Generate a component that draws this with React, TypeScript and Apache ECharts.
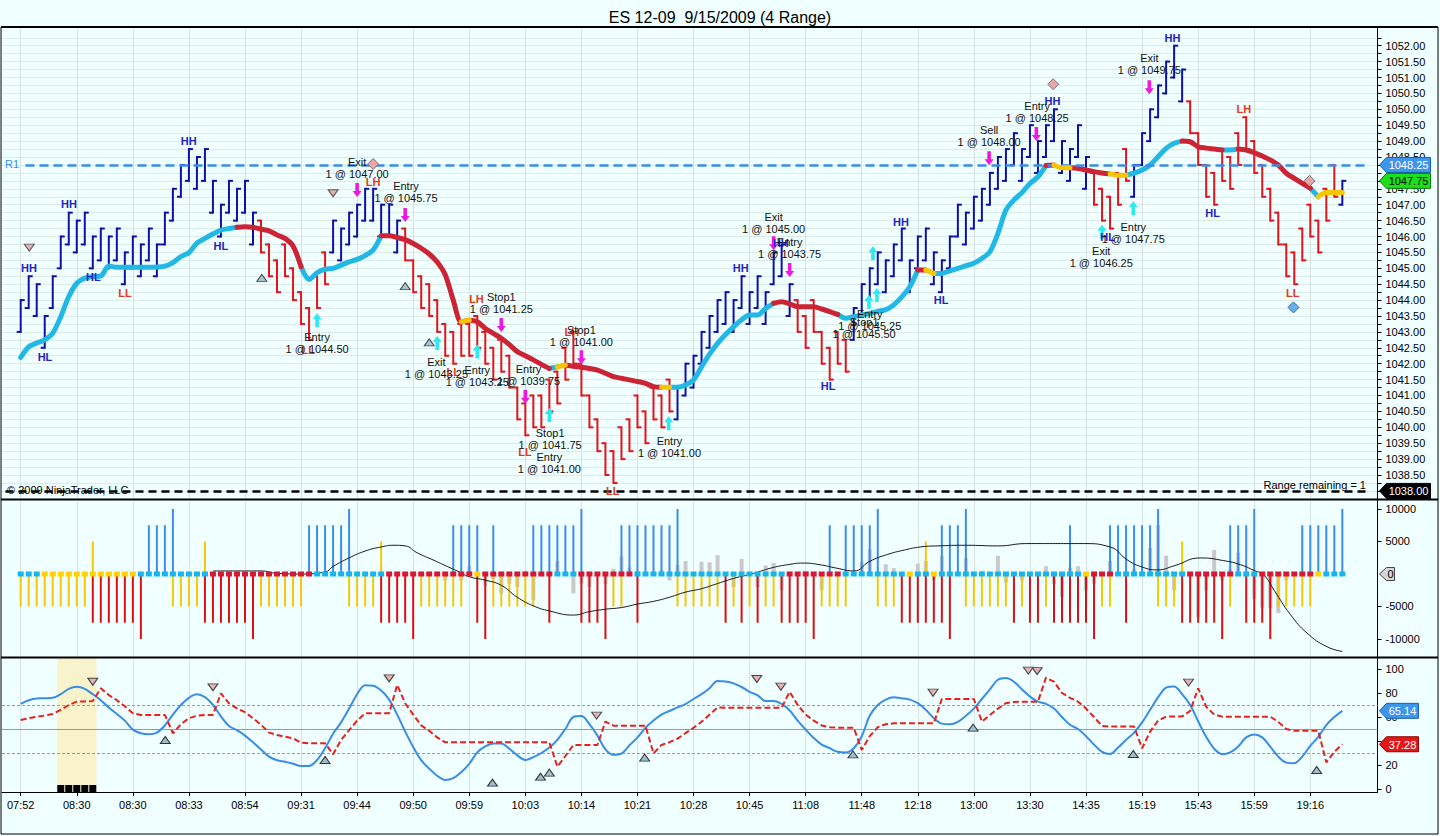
import React, { useEffect, useRef } from 'react';
import * as echarts from 'echarts';

const FONT = '"Liberation Sans", Arial, Helvetica, sans-serif';
const TITLE = 'ES 12-09  9/15/2009 (4 Range)';

// ---------- x axis (bar numbers, one label every 7 bars) ----------
const TIME_LABELS = ['07:52', '08:30', '08:30', '08:33', '08:54', '09:31', '09:44', '09:50', '09:59', '10:03', '10:14', '10:21', '10:28', '10:45', '11:08', '11:48', '12:18', '13:00', '13:30', '14:35', '15:19', '15:43', '15:59', '19:16'];
const LABEL_STEP = 7;

// ---------- price pane ----------
const BAR_HIGHS = [
  1044, 1044.75, 1044.5, 1043.5, 1044.75, 1046, 1046.75, 1046.5, 1046.75, 1046,
  1046.25, 1046, 1046.25, 1045.5, 1046, 1045.75, 1046.25, 1045.75, 1046.75, 1047.5,
  1048.25, 1048.75, 1048.5, 1048.75, 1047.75, 1047, 1047.75, 1047.5, 1047.75, 1046.75,
  1046.5, 1045.75, 1045.25, 1045.75, 1045, 1044.25, 1043.75, 1044.75, 1045.5, 1046.5,
  1046.25, 1046.75, 1047, 1047.5, 1047.5, 1047, 1047, 1046.5, 1046.25, 1045.25,
  1044.75, 1044.5, 1044, 1043.25, 1043, 1043.25, 1043.25, 1043.5, 1043, 1042.5,
  1042.75, 1042.25, 1041.25, 1040.75, 1041, 1041, 1041.5, 1041.75, 1042.5, 1043,
  1042, 1041, 1040.25, 1039.5, 1039.25, 1040, 1040.25, 1041, 1040.5, 1041.25,
  1041, 1041.5, 1041.25, 1042, 1042.25, 1043, 1043.5, 1044, 1044.25, 1044,
  1044.75, 1044.25, 1044.75, 1044.25, 1045.5, 1045.75, 1044.5, 1044, 1043.5, 1044,
  1043, 1042.5, 1043, 1042.75, 1043.75, 1044.5, 1045, 1045.5, 1045.25, 1045.75,
  1046.25, 1045.25, 1046, 1046.25, 1045.5, 1045.25, 1046, 1047, 1046.75, 1047.25,
  1047.5, 1048, 1048.5, 1048.75, 1049.25, 1048.75, 1049.5, 1049, 1049.5, 1050,
  1049, 1048.75, 1049.5, 1048.5, 1048, 1047.5, 1047.25, 1048, 1048.75, 1048.25,
  1049.25, 1050, 1050.75, 1051.5, 1052, 1051.25, 1050.25, 1049.25, 1048.25, 1048,
  1048.75, 1048.5, 1049.25, 1049.75, 1049, 1048.25, 1047.5, 1046.75, 1045.75, 1045.5,
  1046.25, 1047, 1046.5, 1047.5, 1048.25, 1047.75,
];
const BAR_LOWS = [
  1043, 1043.75, 1043.5, 1042.5, 1043.75, 1045, 1045.75, 1045.5, 1045.75, 1045,
  1045.25, 1045, 1045.25, 1044.5, 1045, 1044.75, 1045.25, 1044.75, 1045.75, 1046.5,
  1047.25, 1047.75, 1047.5, 1047.75, 1046.75, 1046, 1046.75, 1046.5, 1046.75, 1045.75,
  1045.5, 1044.75, 1044.25, 1044.75, 1044, 1043.25, 1042.75, 1043.75, 1044.5, 1045.5,
  1045.25, 1045.75, 1046, 1046.5, 1046.5, 1046, 1046, 1045.5, 1045.25, 1044.25,
  1043.75, 1043.5, 1043, 1042.25, 1042, 1042.25, 1042.25, 1042.5, 1042, 1041.5,
  1041.75, 1041.25, 1040.25, 1039.75, 1040, 1040, 1040.5, 1040.75, 1041.5, 1042,
  1041, 1040, 1039.25, 1038.5, 1038.25, 1039, 1039.25, 1040, 1039.5, 1040.25,
  1040, 1040.5, 1040.25, 1041, 1041.25, 1042, 1042.5, 1043, 1043.25, 1043,
  1043.75, 1043.25, 1043.75, 1043.25, 1044.5, 1044.75, 1043.5, 1043, 1042.5, 1043,
  1042, 1041.5, 1042, 1041.75, 1042.75, 1043.5, 1044, 1044.5, 1044.25, 1044.75,
  1045.25, 1044.25, 1045, 1045.25, 1044.5, 1044.25, 1045, 1046, 1045.75, 1046.25,
  1046.5, 1047, 1047.5, 1047.75, 1048.25, 1047.75, 1048.5, 1048, 1048.5, 1049,
  1048, 1047.75, 1048.5, 1047.5, 1047, 1046.5, 1046.25, 1047, 1047.75, 1047.25,
  1048.25, 1049, 1049.75, 1050.5, 1051, 1050.25, 1049.25, 1048.25, 1047.25, 1047,
  1047.75, 1047.5, 1048.25, 1048.75, 1048, 1047.25, 1046.5, 1045.75, 1044.75, 1044.5,
  1045.25, 1046, 1045.5, 1046.5, 1047.25, 1047,
];
// B = blue (up) bar, R = red (down) bar; [colour, number of bars]
const BAR_COLOR_RUNS: [string, number][] = [['B', 30], ['R', 9], ['B', 9], ['R', 34], ['B', 15], ['R', 7], ['B', 30], ['R', 5], ['B', 7], ['R', 19], ['B', 1]];

const MA_VALUES = [
  1042.2, 1042.53, 1042.65, 1042.75, 1042.96, 1043.48, 1044.11, 1044.53, 1044.69, 1044.74,
  1044.76, 1045.07, 1045.03, 1045.03, 1045.03, 1045.03, 1045.03, 1045.04, 1045.07, 1045.18,
  1045.37, 1045.49, 1045.79, 1045.94, 1046.08, 1046.2, 1046.25, 1046.29, 1046.31, 1046.29,
  1046.23, 1046.18, 1046.05, 1045.94, 1045.7, 1045.05, 1044.65, 1044.86, 1044.97, 1045.0,
  1045.1, 1045.2, 1045.28, 1045.4, 1045.58, 1046.02, 1046.02, 1045.97, 1045.9, 1045.78,
  1045.63, 1045.45, 1045.2, 1044.8, 1044.0, 1043.32, 1043.37, 1043.32, 1043.11, 1042.95,
  1042.8, 1042.6, 1042.38, 1042.25, 1042.12, 1041.98, 1041.85, 1041.9, 1041.96, 1041.92,
  1041.89, 1041.85, 1041.8, 1041.7, 1041.59, 1041.54, 1041.49, 1041.44, 1041.38, 1041.28,
  1041.26, 1041.26, 1041.26, 1041.33, 1041.49, 1041.9, 1042.3, 1042.64, 1042.92, 1043.16,
  1043.38, 1043.53, 1043.53, 1043.74, 1043.9, 1043.95, 1043.88, 1043.79, 1043.79, 1043.79,
  1043.72, 1043.64, 1043.55, 1043.43, 1043.48, 1043.53, 1043.58, 1043.64, 1043.7, 1043.85,
  1044.1, 1044.42, 1044.95, 1044.95, 1044.84, 1044.84, 1044.92, 1045.0, 1045.08, 1045.16,
  1045.31, 1045.52, 1046.1, 1046.83, 1047.15, 1047.38, 1047.67, 1047.88, 1048.23, 1048.25,
  1048.16, 1048.16, 1048.14, 1048.09, 1048.04, 1048.0, 1047.97, 1047.93, 1047.93, 1047.99,
  1048.09, 1048.25, 1048.51, 1048.77, 1048.93, 1049.0, 1048.98, 1048.82, 1048.78, 1048.75,
  1048.72, 1048.72, 1048.75, 1048.72, 1048.64, 1048.53, 1048.41, 1048.25, 1047.99, 1047.83,
  1047.67, 1047.52, 1047.25, 1047.38, 1047.38, 1047.38,
];
// u = rising (cyan), d = falling (red), f = flat (yellow)
const MA_STATE_RUNS: [string, number][] = [['u', 28], ['d', 8], ['u', 10], ['d', 10], ['f', 1], ['d', 10], ['u', 1], ['f', 1], ['d', 12], ['f', 1], ['u', 13], ['d', 8], ['u', 10], ['d', 1], ['f', 1], ['u', 14], ['d', 1], ['f', 2], ['d', 5], ['f', 2], ['u', 7], ['d', 5], ['u', 2], ['d', 9], ['u', 1], ['f', 3]];

const PRICE_LABELS = [1038, 1038.5, 1039, 1039.5, 1040, 1040.5, 1041, 1041.5, 1042, 1042.5, 1043, 1043.5, 1044, 1044.5, 1045, 1045.5, 1046, 1046.5, 1047, 1047.5, 1048, 1048.5, 1049, 1049.5, 1050, 1050.5, 1051, 1051.5, 1052];
const PRICE_MIN = 1037.745;
const PRICE_MAX = 1052.557;
const R1_LEVEL = 1048.25;
const FLOOR_LEVEL = 1038.0;
const LAST_PRICE = 1047.75;

const SWING_LABELS: [string, number, number][] = [
  ['HH', 2.04, 1045.01], ['HL', 4.03, 1042.22], ['HH', 7.03, 1047.01], ['HL', 10.06, 1044.72], ['LL', 14.02, 1044.23],
  ['HH', 21.97, 1048.99], ['HL', 26.0, 1045.71], ['LL', 36.9, 1042.43], ['LH', 45.0, 1047.72], ['LL', 55.0, 1041.75],
  ['LH', 57.9, 1044.03], ['LL', 63.96, 1039.23], ['LH', 69.8, 1043.0], ['LL', 74.9, 1038.01], ['HH', 90.9, 1045.0],
  ['HH', 95.9, 1045.8], ['HL', 101.8, 1041.3], ['HH', 110.9, 1046.47], ['HL', 115.9, 1044.0], ['HH', 129.8, 1050.27],
  ['HL', 136.7, 1045.97], ['HH', 144.8, 1052.23], ['HL', 149.8, 1046.73], ['LH', 153.7, 1050.0], ['LL', 159.8, 1044.23],
];
const TRADE_LABELS: [string, number, number][] = [
  ['Exit\n1 @ 1047.00', 43.0, 1048.15],
  ['Entry\n1 @ 1045.75', 49.1, 1047.4],
  ['Entry\n1 @ 1044.50', 38.0, 1042.64],
  ['Stop1\n1 @ 1041.25', 61.0, 1043.91],
  ['Exit\n1 @ 1043.25', 52.9, 1041.86],
  ['Entry\n1 @ 1043.25', 58.0, 1041.61],
  ['Entry\n1 @ 1039.75', 64.4, 1041.66],
  ['Stop1\n1 @ 1041.00', 71.0, 1042.88],
  ['Stop1\n1 @ 1041.75', 67.1, 1039.63],
  ['Entry\n1 @ 1041.00', 67.0, 1038.88],
  ['Entry\n1 @ 1041.00', 82.0, 1039.37],
  ['Exit\n1 @ 1045.00', 95.0, 1046.43],
  ['Entry\n1 @ 1043.75', 97.0, 1045.65],
  ['Entry\n1 @ 1045.25', 107.0, 1043.37],
  ['Stop1\n1 @ 1045.50', 106.3, 1043.12],
  ['Sell\n1 @ 1048.00', 121.9, 1049.16],
  ['Entry\n1 @ 1048.25', 127.9, 1049.92],
  ['Exit\n1 @ 1049.75', 141.9, 1051.43],
  ['Entry\n1 @ 1047.75', 139.9, 1046.11],
  ['Exit\n1 @ 1046.25', 135.9, 1045.36],
];
const SELL_ARROWS = [[43, 1047.46], [49, 1046.68], [61, 1043.22], [64, 1040.96], [71, 1042.2], [95, 1045.79], [97, 1044.95], [121.9, 1048.46], [127.8, 1049.22], [141.9, 1050.69]];
const BUY_ARROWS = [[38, 1043.37], [53, 1042.65], [58, 1042.38], [67, 1040.39], [81.9, 1040.13], [106.9, 1043.95], [107.9, 1044.16], [107.4, 1045.47], [139.9, 1046.89], [136, 1046.15]];
const PRICE_TRI_DOWN = [[2.07, 1045.65], [40, 1047.36]];
const PRICE_TRI_UP = [[31.1, 1044.7], [49, 1044.44], [52, 1042.67]];
const PINK_DIAMONDS = [[45, 1048.28], [129.9, 1050.79], [161.9, 1047.75]];
const BLUE_DIAMONDS = [[159.9, 1043.77]];

// ---------- delta pane ----------
const DELTA_UP = [
  0, 0, 0, 0, 0, 0, 0, 0, 0, 5000,
  0, 0, 0, 0, 0, 0, 7500, 7500, 7500, 10000,
  0, 0, 0, 5000, 0, 0, 0, 0, 0, 0,
  0, 0, 0, 0, 0, 0, 7500, 7500, 7500, 7500,
  7500, 10000, 0, 0, 0, 5000, 0, 0, 0, 0,
  0, 0, 0, 0, 7500, 7500, 7500, 7500, 0, 7500,
  0, 0, 0, 0, 7500, 7500, 7500, 7500, 7500, 7500,
  10000, 0, 0, 0, 0, 7500, 7500, 7500, 7500, 7500,
  7500, 7500, 10000, 0, 0, 0, 0, 0, 0, 0,
  0, 0, 0, 0, 0, 0, 0, 0, 0, 0,
  0, 7500, 0, 7500, 7500, 7500, 7500, 10000, 0, 0,
  0, 0, 0, 5000, 0, 7500, 7500, 7500, 10000, 0,
  0, 0, 0, 0, 0, 0, 0, 0, 0, 0,
  0, 7500, 0, 0, 0, 0, 7500, 7500, 7500, 7500,
  7500, 7500, 10000, 0, 0, 5000, 0, 0, 0, 0,
  0, 7500, 7500, 7500, 10000, 0, 0, 0, 0, 0,
  7500, 7500, 7500, 7500, 7500, 10000,
];
const DELTA_DOWN = [
  -5000, -5000, -5000, -5000, -5000, -5000, -5000, -5000, -5000, -7500,
  -7500, -7500, -7500, -7500, -7500, -10000, 0, 0, 0, -5000,
  -5000, -5000, -5000, -7500, -7500, -7500, -7500, -7500, -7500, -10000,
  -5000, -5000, -5000, -5000, -5000, -5000, 0, 0, 0, 0,
  0, -5000, -5000, -5000, -5000, -7500, -7500, -7500, -7500, -10000,
  -5000, -5000, -5000, -5000, -5000, -5000, 0, -7500, -10000, -5000,
  -5000, -5000, -5000, -5000, -5000, 0, -7500, 0, 0, 0,
  -7500, -7500, -7500, -10000, -5000, -5000, 0, -7500, 0, 0,
  0, 0, -5000, -5000, -5000, -5000, -5000, -5000, -7500, -5000,
  -7500, -5000, -7500, -5000, -5000, -7500, -7500, -7500, -7500, -10000,
  -5000, -5000, -5000, -5000, 0, 0, 0, -5000, -5000, -5000,
  -7500, -7500, -7500, -7500, -7500, -7500, -10000, 0, -5000, -5000,
  -5000, -5000, -5000, -5000, -7500, -5000, -7500, -7500, -5000, -7500,
  -7500, -7500, -7500, -7500, -10000, -5000, -5000, 0, -7500, 0,
  0, 0, -5000, -5000, -5000, -7500, -7500, -7500, -7500, -7500,
  -10000, -5000, 0, -7500, -7500, -7500, -10000, -5000, -5000, -5000,
  -5000, -5000, 0, 0, 0, 0,
];
const DELTA_GRAY = [[54, -1000], [56, -1000], [57, 1200], [59, -1800], [60, -800], [61, -3000], [62, -1500], [63, -2000], [64, 500], [65, -4000], [68, 2000], [70, -3000], [71, -1500], [72, -2000], [74, -1500], [75, 800], [76, 2700], [77, 1000], [78, 500], [81, 600], [82, -1000], [83, 1400], [84, 2000], [86, 1900], [87, 1800], [88, 2900], [90, -2000], [91, 2300], [93, -2000], [94, 1300], [95, 1700], [96, -2500], [99, 500], [101, -2500], [106, 1800], [107, 3800], [109, 1500], [110, 900], [113, 1600], [114, 2000], [115, -1000], [116, 2800], [119, 2500], [121, 500], [123, 2800], [124, -1300], [126, -1000], [129, 1200], [130, -1500], [131, -3500], [132, 1000], [133, 1200], [134, -2500], [135, -1500], [137, 2000], [140, 800], [142, 4000], [143, 7500], [144, 2800], [145, -2500], [148, -6700], [149, -2500], [150, 3700], [151, -1000], [152, 800], [153, 3300], [155, -3800], [156, -5200], [157, -5200], [158, -6000], [159, -1000]];
const DELTA_AVG = [[25, 470], [28, 470], [31, 470], [33, 100], [36, 0], [39, 300], [40, 1160], [42, 2470], [44, 3530], [46, 4160], [47.6, 4420], [49, 4320], [50.5, 3260], [52.6, 2100], [54.25, 1160], [55.5, 470], [57, -420], [59, -950], [61, -1740], [63, -3580], [65, -4900], [67, -5680], [70, -6320], [72, -5790], [74, -5420], [76, -5160], [78, -4630], [80, -4210], [82, -3580], [84, -2790], [86, -2260], [88, -1470], [90, -680], [92.5, 100], [94.6, 890], [96.7, 1420], [98.7, 1680], [100.8, 1420], [102.9, 890], [105, 470], [107, 1950], [109.2, 3000], [111.3, 3680], [113.3, 4160], [115.4, 4320], [119, 4420], [123, 4320], [126.6, 4680], [133.7, 4680], [137, 4160], [139.1, 2210], [140.8, 1160], [142.9, 630], [145, 1260], [148.3, 2470], [151.2, 2050], [153.3, 1420], [155, 530], [156.2, -160], [157.5, -2530], [159.5, -6210], [161.6, -9100], [164.1, -11200], [166, -11900]];
// c = cyan, y = yellow, r = red zero-line dots
const DOT_STATE_RUNS: [string, number][] = [['c', 3], ['y', 12], ['c', 9], ['r', 13], ['c', 9], ['r', 11], ['y', 1], ['r', 9], ['c', 3], ['r', 7], ['c', 19], ['r', 7], ['c', 8], ['y', 1], ['c', 2], ['y', 1], ['c', 18], ['y', 1], ['r', 3], ['c', 9], ['r', 6], ['c', 3], ['r', 7], ['y', 1], ['c', 3]];
const DELTA_LABELS = [-10000, -5000, 5000, 10000];
const DELTA_MIN = -12770;
const DELTA_MAX = 11384;

// ---------- oscillator pane ----------
const OSC_K = [
  71, 74, 75.5, 75.6, 76, 79, 83.5, 85.3, 83.5, 79,
  74, 68, 62.5, 57, 49.5, 46.5, 45.6, 47, 53, 62,
  70, 76, 78.9, 76.5, 70, 60.5, 52.5, 49, 44.5, 39,
  33, 27, 24, 22.7, 21, 19.2, 19.2, 24.2, 34, 46,
  55.5, 67, 79, 86.5, 86, 82, 74.5, 62, 48, 35,
  24, 17, 11, 7.5, 9, 14, 21, 30.5, 35.5, 38,
  38, 33.5, 28, 24.2, 26.5, 30, 34.5, 41, 50, 60,
  60.8, 54, 44.5, 33, 28.5, 29.5, 36.5, 43, 51, 57,
  62, 65, 68, 70.8, 75, 79, 84, 90, 89.5, 88,
  85, 81, 78, 73.3, 73.3, 71, 65.5, 57, 49.5, 42.5,
  37, 34, 31, 30.5, 34, 44, 61, 70, 74.5, 76.4,
  75.6, 74.5, 71.5, 66, 59, 54.5, 54, 56, 61, 67,
  75, 83, 91, 92.5, 89.4, 83, 77, 72.8, 71, 67,
  60, 53.5, 50, 44, 37, 31, 29.2, 34.5, 41, 47,
  55.5, 66, 76.5, 84.5, 85.5, 79, 70, 56.5, 43.5, 33.5,
  29, 30.5, 35.5, 43, 45.5, 43, 35.3, 27, 22, 21.5,
  27, 36, 43.5, 53.3, 60, 65.14,
];
const OSC_D = [
  57.5, 59, 60.3, 61.2, 62.5, 66, 70, 72.8, 73, 73.3,
  83.9, 78.3, 74, 69, 63.1, 61.7, 61.7, 61.7, 61.7, 46.4,
  54, 59, 61, 61.7, 61.7, 79.7, 71.4, 67.2, 64, 59,
  53.5, 47, 45, 43.6, 42.2, 38.5, 38.1, 38.1, 38.1, 28.9,
  41, 49, 57, 63.1, 63.1, 63.1, 63.1, 86.7, 71.5, 62,
  53, 48.5, 43, 38.9, 38.9, 38.9, 38.9, 38.9, 38.9, 38.9,
  38.9, 38.9, 38.9, 38.9, 38.9, 38.9, 38.9, 18.6, 27.5, 36.7,
  36.7, 36.7, 36.7, 56.1, 52.8, 52.8, 52.8, 52.8, 52.8, 29.7,
  36.7, 39, 42, 46.5, 51, 56, 62, 68, 67.8, 67.8,
  67.8, 67.8, 67.8, 67.8, 67.8, 67.8, 81, 70, 62, 57,
  53, 51.5, 51.1, 51.1, 51.1, 32.5, 44, 51.5, 54, 54.7,
  54.7, 54.7, 54.7, 54.7, 54.7, 75, 75, 75, 75, 75,
  56.1, 61.7, 67, 71.5, 72.5, 72.8, 72.8, 72.8, 92.8, 89.4,
  80, 76, 72.8, 67, 60, 52.5, 52, 52, 52, 52,
  33.9, 47.8, 57, 60.3, 60.5, 60.5, 65, 83.9, 68.6, 62,
  60.3, 60.3, 60.3, 60.3, 60.3, 60.3, 60.3, 56, 50, 48.5,
  48.5, 48.5, 48.5, 22.2, 31, 37.28,
];
const OSC_LABELS = [0, 20, 40, 60, 80, 100];
const OSC_LEVELS = [70, 50, 30];
const OSC_MIN = -2.5;
const OSC_MAX = 109.17;
const OSC_TRI_DOWN = [[10, 89.4], [25, 84.75], [47, 92.25], [72.9, 61.1], [92.9, 91.7], [95.9, 85.25], [114.9, 80.25], [126.8, 98.6], [127.9, 98.3], [146.8, 88.6]];
const OSC_TRI_UP = [[19.05, 40.8], [39, 24.2], [59.9, 5.25], [65.9, 10.25], [67, 13.6], [78.9, 26.1], [104.9, 28.9], [119.9, 51.1], [139.9, 29.2], [162.8, 15.8]];
const SESSION_BARS = [6, 7, 8, 9, 10];
const SESSION_BAND = [5.58, 10.45];

// ---------- layout ----------
const X_MIN = -1.335;
const X_MAX = 170.39;
const GRID_LEFT = 2;
const GRID_RIGHT = 62.5;

const BLUE_BAR = '#1010A8';
const RED_BAR = '#E4141A';
const MA_CYAN = '#22B8E6';
const MA_RED = '#CC2434';
const MA_YELLOW = '#F7C600';
const D_BLUE = '#3A8EE8';
const D_YELLOW = '#F6C800';
const D_RED = '#E00E12';

function expandRuns(runs: [string, number][]): string[] {
  const out: string[] = [];
  runs.forEach(([k, c]) => {
    for (let i = 0; i < c; i++) out.push(k);
  });
  return out;
}

function buildOption(): any {
  const barColors = expandRuns(BAR_COLOR_RUNS);
  const maStates = expandRuns(MA_STATE_RUNS);
  const dotStates = expandRuns(DOT_STATE_RUNS);
  const tickBars = TIME_LABELS.map((_, k) => 1 + k * LABEL_STEP);
  const priceTicks: number[] = [];
  PRICE_LABELS.forEach((v) => { priceTicks.push(v, v + 0.25); });

  const barData = BAR_HIGHS.map((hi, i) => {
    const lo = BAR_LOWS[i];
    const red = barColors[i] === 'R';
    return [i + 1, red ? hi : lo, red ? lo : hi, lo, hi, red ? 1 : 0];
  });

  const xAxis = [0, 1, 2].map((gi) => ({
    type: 'value',
    gridIndex: gi,
    min: X_MIN,
    max: X_MAX,
    axisLine: { show: gi === 2, onZero: false, lineStyle: { color: '#000', width: 1 } },
    axisTick: { show: gi === 2, customValues: tickBars, length: 4, lineStyle: { color: '#000' } },
    axisLabel: {
      show: gi === 2,
      customValues: tickBars,
      margin: 7,
      fontSize: 11,
      fontFamily: FONT,
      color: '#000',
      formatter: (v: number) => TIME_LABELS[Math.round((v - 1) / LABEL_STEP)] ?? '',
    },
    splitLine: { show: true, lineStyle: { color: '#D5E4E0', width: 1 } },
  }));

  const yAxis = [
    {
      type: 'value', gridIndex: 0, position: 'right', min: PRICE_MIN, max: PRICE_MAX,
      axisLine: { show: true, onZero: false, lineStyle: { color: '#000' } },
      axisTick: { show: true, customValues: priceTicks, length: 4, lineStyle: { color: '#000' } },
      axisLabel: { customValues: PRICE_LABELS, margin: 8, fontSize: 11, fontFamily: FONT, color: '#000', formatter: (v: number) => v.toFixed(2) },
      splitLine: { show: true, lineStyle: { color: '#DCEBE8', width: 1 } },
    },
    {
      type: 'value', gridIndex: 1, position: 'right', min: DELTA_MIN, max: DELTA_MAX,
      axisLine: { show: true, onZero: false, lineStyle: { color: '#000' } },
      axisTick: { show: true, customValues: DELTA_LABELS, length: 4, lineStyle: { color: '#000' } },
      axisLabel: { customValues: DELTA_LABELS, margin: 8, fontSize: 11, fontFamily: FONT, color: '#000', formatter: (v: number) => String(v) },
      splitLine: { show: false },
    },
    {
      type: 'value', gridIndex: 2, position: 'right', min: OSC_MIN, max: OSC_MAX,
      axisLine: { show: true, onZero: false, lineStyle: { color: '#000' } },
      axisTick: { show: true, customValues: OSC_LABELS, length: 4, lineStyle: { color: '#000' } },
      axisLabel: { customValues: OSC_LABELS, margin: 8, fontSize: 11, fontFamily: FONT, color: '#000', formatter: (v: number) => String(v) },
      splitLine: { show: false },
    },
  ];

  const maLine = (state: string, color: string, z: number, extra: any = {}) => ({
    type: 'line', xAxisIndex: 0, yAxisIndex: 0, z, silent: true,
    data: MA_VALUES.map((v, i) => [i + 1, maStates[i] === state || maStates[i + 1] === state ? v : null]),
    showSymbol: false, symbol: 'none', smooth: 0.3, connectNulls: false,
    lineStyle: { color, width: 5, cap: 'round', join: 'round' },
    ...extra,
  });

  const scatter = (gi: number, data: number[][], symbol: string, size: any, fill: string, stroke: string | null, rotate = 0, z = 6) => ({
    type: 'scatter', xAxisIndex: gi, yAxisIndex: gi, data, symbol, symbolSize: size, symbolRotate: rotate, silent: true, z,
    itemStyle: { color: fill, borderColor: stroke ?? fill, borderWidth: stroke ? 1 : 0, opacity: 1 },
  });

  const textSeries = (gi: number, items: [string, number, number][], font: string, colorOf: (t: string) => string, z = 9) => ({
    type: 'custom', xAxisIndex: gi, yAxisIndex: gi, z, silent: true, clip: false,
    data: items.map((t) => [t[1], t[2]]),
    renderItem: (params: any, api: any) => {
      const t = items[params.dataIndex];
      const p = api.coord([api.value(0), api.value(1)]);
      return {
        type: 'text', x: p[0], y: p[1],
        style: { text: t[0], fill: colorOf(t[0]), font, align: 'center', verticalAlign: 'middle', textAlign: 'center', textVerticalAlign: 'middle', lineHeight: 12 },
      };
    },
  });

  const tagSeries = (gi: number, values: number[], texts: string[], fills: string[], strokes: string[], textColors: string[], width: number, half: number) => ({
    type: 'custom', xAxisIndex: gi, yAxisIndex: gi, z: 30, silent: true, clip: false,
    data: values.map((v) => [X_MAX, v]),
    renderItem: (params: any, api: any) => {
      const i = params.dataIndex;
      const p = api.coord([X_MAX, api.value(1)]);
      const x0 = p[0] + 2;
      const y = p[1];
      return {
        type: 'group',
        children: [
          { type: 'polygon', shape: { points: [[x0, y], [x0 + 7, y - half], [x0 + 7 + width, y - half], [x0 + 7 + width, y + half], [x0 + 7, y + half]] }, style: { fill: fills[i], stroke: strokes[i], lineWidth: 1 } },
          { type: 'text', x: x0 + 7 + width / 2, y: y + 0.5, style: { text: texts[i], fill: textColors[i], font: `11px ${FONT}`, align: 'center', verticalAlign: 'middle', textAlign: 'center', textVerticalAlign: 'middle' } },
        ],
      };
    },
  });

  const stickRender = (width: number, colorOf: (v: number) => string) => (params: any, api: any) => {
    const n = api.value(0);
    const v = api.value(1);
    const a = api.coord([n, 0]);
    const b = api.coord([n, v]);
    return { type: 'line', shape: { x1: a[0], y1: a[1], x2: b[0], y2: b[1] }, style: { stroke: colorOf(v), lineWidth: width } };
  };

  const stickData: number[][] = [];
  DELTA_UP.forEach((v, i) => { if (v) stickData.push([i + 1, v]); });
  DELTA_DOWN.forEach((v, i) => { if (v) stickData.push([i + 1, v]); });

  const series: any[] = [
    // ---- price pane ----
    {
      type: 'custom', xAxisIndex: 0, yAxisIndex: 0, z: 3, silent: true,
      data: barData,
      encode: { x: 0, y: [3, 4] },
      renderItem: (params: any, api: any) => {
        const n = api.value(0);
        const pO = api.coord([n, api.value(1)]);
        const pC = api.coord([n, api.value(2)]);
        const pL = api.coord([n, api.value(3)]);
        const pH = api.coord([n, api.value(4)]);
        const color = api.value(5) ? RED_BAR : BLUE_BAR;
        const st = { stroke: color, lineWidth: 2 };
        return {
          type: 'group',
          children: [
            { type: 'line', shape: { x1: pL[0], y1: pL[1] + 1, x2: pH[0], y2: pH[1] - 1 }, style: st },
            { type: 'line', shape: { x1: pO[0] - 4, y1: pO[1], x2: pO[0], y2: pO[1] }, style: st },
            { type: 'line', shape: { x1: pC[0], y1: pC[1], x2: pC[0] + 4, y2: pC[1] }, style: st },
          ],
        };
      },
    },
    maLine('u', MA_CYAN, 4, {
      markLine: {
        silent: true, symbol: 'none', label: { show: false },
        data: [
          [{ coord: [1.6, R1_LEVEL], lineStyle: { color: '#3A8CE8', width: 2.5, type: [9, 5] } }, { coord: [169.2, R1_LEVEL] }],
          [{ coord: [-0.9, FLOOR_LEVEL], lineStyle: { color: '#000', width: 2.5, type: [8, 5] } }, { coord: [169.2, FLOOR_LEVEL] }],
        ],
      },
    }),
    maLine('d', MA_RED, 4),
    maLine('f', MA_YELLOW, 5),
    scatter(0, PRICE_TRI_DOWN, 'triangle', [10, 7], '#E4B2B0', '#555', 180),
    scatter(0, PRICE_TRI_UP, 'triangle', [10, 7], '#A9C6D6', '#444'),
    scatter(0, PINK_DIAMONDS, 'diamond', [11, 11], '#E8A6A6', '#777'),
    scatter(0, BLUE_DIAMONDS, 'diamond', [11, 11], '#68AEEA', '#3A6A9A'),
    scatter(0, SELL_ARROWS, 'path://M3,0 L7,0 L7,8 L10,8 L5,14 L0,8 L3,8 Z', [9, 14], '#F018E0', null, 0, 7),
    scatter(0, BUY_ARROWS, 'path://M5,0 L10,6 L7,6 L7,14 L3,14 L3,6 L0,6 Z', [9, 14], '#2EEAF0', null, 0, 7),
    textSeries(0, SWING_LABELS, `bold 11px ${FONT}`, (t) => (t === 'LL' || t === 'LH' ? '#E2381C' : '#2424C0')),
    textSeries(0, TRADE_LABELS, `11px ${FONT}`, () => '#111'),
    tagSeries(0, [R1_LEVEL, LAST_PRICE, FLOOR_LEVEL], ['1048.25', '1047.75', '1038.00'], ['#3D96EC', '#1BE01B', '#000'], ['#1A5FB0', '#0A7A0A', '#000'], ['#fff', '#000', '#fff'], 44, 7.5),

    // ---- delta pane ----
    {
      type: 'custom', xAxisIndex: 1, yAxisIndex: 1, z: 2, silent: true,
      data: DELTA_GRAY,
      renderItem: stickRender(4, () => '#C9C9C9'),
    },
    {
      type: 'custom', xAxisIndex: 1, yAxisIndex: 1, z: 3, silent: true,
      data: stickData,
      renderItem: stickRender(2, (v) => (Math.abs(v) <= 5000 ? D_YELLOW : v > 0 ? D_BLUE : D_RED)),
    },
    {
      type: 'line', xAxisIndex: 1, yAxisIndex: 1, z: 4, silent: true,
      data: DELTA_AVG, showSymbol: false, symbol: 'none', smooth: 0.5,
      lineStyle: { color: '#1A1A1A', width: 1 },
    },
    {
      type: 'custom', xAxisIndex: 1, yAxisIndex: 1, z: 5, silent: true,
      data: dotStates.map((s, i) => [i + 1, 0]),
      renderItem: (params: any, api: any) => {
        const s = dotStates[params.dataIndex];
        const p = api.coord([api.value(0), api.value(1)]);
        const fill = s === 'c' ? '#17B4EE' : s === 'y' ? '#FFD200' : '#DA1636';
        return { type: 'rect', shape: { x: p[0] - 3, y: p[1] - 2.5, width: 6, height: 5 }, style: { fill } };
      },
    },
    tagSeries(1, [0], ['0'], ['#D6D6D6'], ['#444'], ['#000'], 8, 6.5),

    // ---- oscillator pane ----
    {
      type: 'line', xAxisIndex: 2, yAxisIndex: 2, z: 4, silent: true,
      data: OSC_K.map((v, i) => [i + 1, v]), showSymbol: false, symbol: 'none', smooth: 0.35,
      lineStyle: { color: '#3A8DE6', width: 2 },
      markArea: {
        silent: true, itemStyle: { color: '#F8F3CA' },
        data: [[{ xAxis: SESSION_BAND[0] }, { xAxis: SESSION_BAND[1] }]],
      },
      markLine: {
        silent: true, symbol: 'none', label: { show: false }, z: 1,
        data: OSC_LEVELS.map((lv) => ({ yAxis: lv, lineStyle: { color: '#9A9A9A', width: 1, type: lv === 50 ? 'solid' : [3, 2] } })),
      },
    },
    {
      type: 'line', xAxisIndex: 2, yAxisIndex: 2, z: 4, silent: true,
      data: OSC_D.map((v, i) => [i + 1, v]), showSymbol: false, symbol: 'none',
      lineStyle: { color: '#E8201C', width: 2, type: [6, 3] },
    },
    scatter(2, OSC_TRI_DOWN, 'triangle', [10, 7], '#E4B2B4', '#444', 180),
    scatter(2, OSC_TRI_UP, 'triangle', [10, 7], '#9EBFD2', '#333'),
    scatter(2, SESSION_BARS.map((n) => [n, 0.4]), 'rect', [7, 7], '#000', null),
    tagSeries(2, [OSC_K[OSC_K.length - 1], OSC_D[OSC_D.length - 1]], ['65.14', '37.28'], ['#3D96EC', '#E21818'], ['#1A5FB0', '#8A0000'], ['#fff', '#fff'], 32, 7.5),
  ];

  return {
    animation: false,
    backgroundColor: '#F0FFFF',
    title: {
      text: TITLE, left: 'center', top: 4,
      textStyle: { fontFamily: FONT, fontSize: 16, fontWeight: 'normal', color: '#000' },
    },
    grid: [
      { left: GRID_LEFT, right: GRID_RIGHT, top: 28, height: 471 },
      { left: GRID_LEFT, right: GRID_RIGHT, top: 500, height: 157 },
      { left: GRID_LEFT, right: GRID_RIGHT, top: 658, height: 134 },
    ],
    xAxis,
    yAxis,
    series,
    graphic: [
      { type: 'rect', silent: true, z: 100, shape: { x: 1, y: 27, width: 1437, height: 807 }, style: { fill: 'none', stroke: '#000', lineWidth: 1 } },
      { type: 'line', silent: true, z: 100, shape: { x1: 1, y1: 27, x2: 1438, y2: 27 }, style: { stroke: '#000', lineWidth: 2 } },
      { type: 'line', silent: true, z: 100, shape: { x1: 1, y1: 499.5, x2: 1438, y2: 499.5 }, style: { stroke: '#000', lineWidth: 2 } },
      { type: 'line', silent: true, z: 100, shape: { x1: 1, y1: 657.5, x2: 1438, y2: 657.5 }, style: { stroke: '#000', lineWidth: 2 } },
      { type: 'text', silent: true, z: 100, x: 5, y: 164, style: { text: 'R1', fill: '#3A8CE8', font: `11px ${FONT}`, verticalAlign: 'middle', textVerticalAlign: 'middle' } },
      { type: 'text', silent: true, z: 100, x: 7, y: 490, style: { text: '© 2009 NinjaTrader, LLC', fill: '#000', font: `11px ${FONT}`, verticalAlign: 'middle', textVerticalAlign: 'middle' } },
      { type: 'text', silent: true, z: 100, x: 1366, y: 485, style: { text: 'Range remaining = 1', fill: '#000', font: `11px ${FONT}`, align: 'right', textAlign: 'right', verticalAlign: 'middle', textVerticalAlign: 'middle' } },
    ],
  };
}

export default function App() {
  const ref = useRef<HTMLDivElement>(null);
  useEffect(() => {
    if (!ref.current) return undefined;
    const chart = echarts.init(ref.current, undefined, { renderer: 'svg' });
    chart.setOption(buildOption());
    return () => chart.dispose();
  }, []);
  return <div ref={ref} style={{ position: 'fixed', left: 0, top: 0, width: 1440, height: 836 }} />;
}
